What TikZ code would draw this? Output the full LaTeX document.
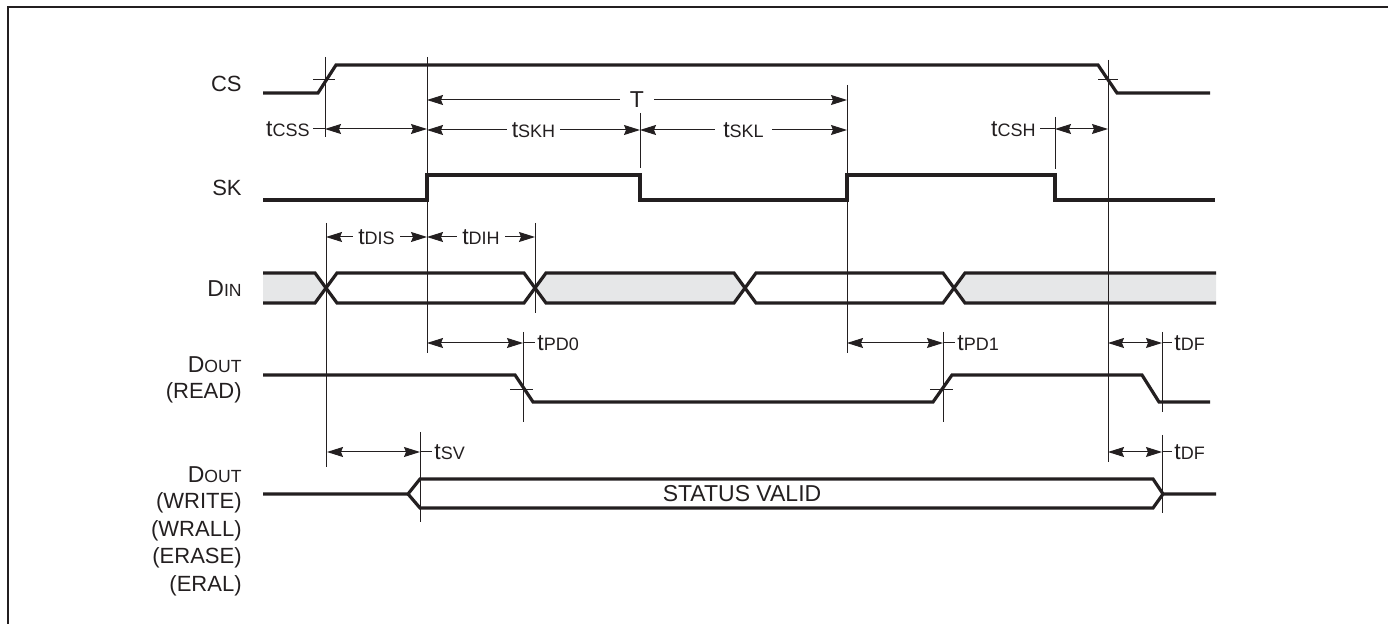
\documentclass[tikz,border=0pt]{standalone}
\usepackage{fontspec}
\setmainfont{Liberation Sans}
\usepackage{xcolor}
\usepackage{tikz}
\usetikzlibrary{arrows.meta}

\definecolor{ink}{RGB}{35,31,32}
\definecolor{busgray}{RGB}{230,231,232}

\newcommand{\tname}[1]{{\fontsize{11.5}{13}\selectfont t}{\fontsize{9}{11}\selectfont #1}}
\newcommand{\pinname}[2]{{\fontsize{11.5}{13}\selectfont #1}{\fontsize{8.8}{11}\selectfont #2}}

\tikzset{
    sig/.style={ink, line width=1.6pt},
    guide/.style={ink, line width=0.5pt},
    dim/.style={guide, {Stealth[length=8pt,width=5pt,inset=1pt]}-{Stealth[length=8pt,width=5pt,inset=1pt]}},
    lbl/.style={text=ink, inner sep=0pt, font=\fontsize{11}{13}\selectfont},
    gap/.style={fill=white, text=ink, inner xsep=2.5pt, inner ysep=1pt},
}

\begin{document}
\begin{tikzpicture}[x=0.5pt, y=-0.5pt]
        \useasboundingbox (0,0) rectangle (1388,624);
        \draw[ink, line width=1.2pt] (8,624) -- (8,7) -- (1388,7);

        % signal names
        \node[lbl, anchor=east] (cs) at (242,84) {CS};
        \node[lbl, anchor=east] (sk) at (242,188) {SK};
        \node[lbl, anchor=east] (din) at (242,289) {\pinname{D}{IN}};
        \node[lbl, anchor=east] (doutr) at (242,365) {\pinname{D}{OUT}};
        \node[lbl, anchor=east] (read) at (242,393) {(READ)};
        \node[lbl, anchor=east] (doutw) at (242,475) {\pinname{D}{OUT}};
        \foreach \op/\y in {WRITE/503, WRALL/531, ERASE/558, ERAL/586}
            \node[lbl, anchor=east] (op-\op) at (242,\y) {(\op)};

        % grey (don't care) parts of DIN
        \fill[busgray] (263,273) -- (315,273) -- (326,288) -- (315,303) -- (263,303) -- cycle;
        \fill[busgray] (535,288) -- (546,273) -- (734,273) -- (745,288) -- (734,303) -- (546,303) -- cycle;
        \fill[busgray] (954,288) -- (965,273) -- (1216,273) -- (1216,303) -- (965,303) -- cycle;

        % reference lines
        \draw[guide] (325,57) -- (325,137);
        \draw[guide] (427,57) -- (427,353);
        \draw[guide] (640,113) -- (640,168);
        \draw[guide] (847,85) -- (847,353);
        \draw[guide] (1055,117) -- (1055,169);
        \draw[guide] (1108,60) -- (1108,462);
        \draw[guide] (326,223) -- (326,467);
        \draw[guide] (535,223) -- (535,313);
        \draw[guide] (523,332) -- (523,422);
        \draw[guide] (943,332) -- (943,422);
        \draw[guide] (1162,332) -- (1162,412);
        \draw[guide] (420,432) -- (420,522);
        \draw[guide] (1162,435) -- (1162,513);
        \draw[guide] (313,80) -- (335,80);
        \draw[guide] (1098,80) -- (1118,80);
        \draw[guide] (510,390) -- (533,390);
        \draw[guide] (930,390) -- (953,390);

        % waveforms
        \draw[sig] (263,93) -- (318,93) -- (336,65) -- (1098,65) -- (1117,93) -- (1210,93);
        \draw[sig] (263,200) -- (427,200) -- (427,175) -- (640,175) -- (640,200)
            -- (847,200) -- (847,175) -- (1055,175) -- (1055,200) -- (1215,200);
        \draw[sig] (263,273) -- (315,273) -- (337,303) -- (524,303) -- (546,273) -- (734,273)
            -- (756,303) -- (943,303) -- (965,273) -- (1216,273);
        \draw[sig] (263,303) -- (315,303) -- (337,273) -- (524,273) -- (546,303) -- (734,303)
            -- (756,273) -- (943,273) -- (965,303) -- (1216,303);
        \draw[sig] (263,375) -- (515,375) -- (533,402) -- (933,402) -- (952,375)
            -- (1142,375) -- (1159,402) -- (1210,402);
        \draw[sig] (263,494) -- (408,494) -- (420,479) -- (1153,479) -- (1163,494) -- (1216,494);
        \draw[sig] (408,494) -- (420,508) -- (1153,508) -- (1163,494);
        \node[lbl, font=\fontsize{11.5}{13}\selectfont] (valid) at (742,494) {STATUS VALID};

        % timing
        \draw[dim] (427,100) -- node[gap, inner xsep=5pt, font=\fontsize{11.5}{13}\selectfont] (per) {T} (847,100);
        \draw[dim] (325,129) -- (427,129);
        \draw[guide] (313,129) -- (325,129);
        \node[lbl, anchor=east] (tcss) at (310,129) {\tname{CSS}};
        \draw[dim] (427,130) -- node[gap] (tskh) {\tname{SKH}} (640,130);
        \draw[dim] (640,130) -- node[gap, inner xsep=4pt] (tskl) {\tname{SKL}} (847,130);
        \draw[dim] (1055,129) -- (1108,129);
        \draw[guide] (1040,129) -- (1055,129);
        \node[lbl, anchor=east] (tcsh) at (1036,129) {\tname{CSH}};
        \draw[dim] (326,237) -- node[gap] (tdis) {\tname{DIS}} (427,237);
        \draw[dim] (427,237) -- node[gap] (tdih) {\tname{DIH}} (535,237);
        \draw[dim] (427,343) -- (523,343);
        \draw[guide] (523,343) -- (535,343);
        \node[lbl, anchor=west] (tpd0) at (537,343) {\tname{PD0}};
        \draw[dim] (847,343) -- (943,343);
        \draw[guide] (943,343) -- (955,343);
        \node[lbl, anchor=west] (tpd1) at (957,343) {\tname{PD1}};
        \draw[dim] (1108,343) -- (1162,343);
        \draw[guide] (1162,343) -- (1172,343);
        \node[lbl, anchor=west] (tdfr) at (1174,343) {\tname{DF}};
        \draw[dim] (327,452) -- (420,452);
        \draw[guide] (420,452) -- (432,452);
        \node[lbl, anchor=west] (tsv) at (434,452) {\tname{SV}};
        \draw[dim] (1108,452) -- (1162,452);
        \draw[guide] (1162,452) -- (1172,452);
        \node[lbl, anchor=west] (tdfw) at (1174,452) {\tname{DF}};
    \end{tikzpicture}
\end{document}
